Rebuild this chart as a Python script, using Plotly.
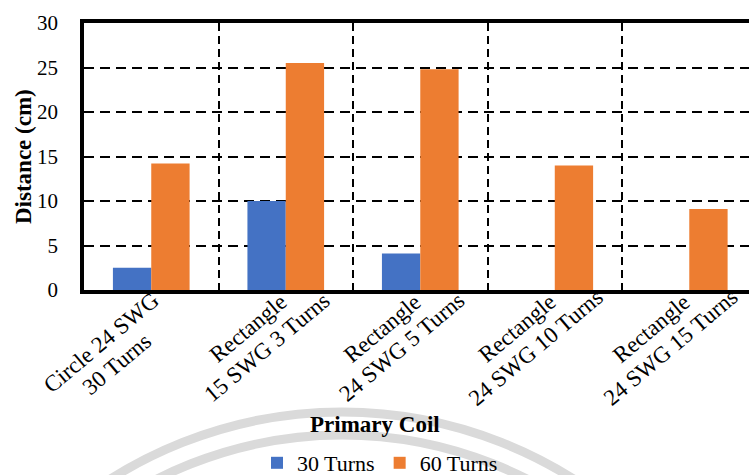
import plotly.graph_objects as go

category_lines = [["Circle 24 SWG", "30 Turns"], ["Rectangle", "15 SWG 3 Turns"], ["Rectangle", "24 SWG 5 Turns"],
                  ["Rectangle", "24 SWG 10 Turns"], ["Rectangle", "24 SWG 15 Turns"]]
turns30 = [2.5, 10.0, 4.1, None, None]
turns60 = [14.2, 25.5, 24.8, 14.0, 9.1]
series_names = ["30 Turns", "60 Turns"]
y_ticks = [0, 5, 10, 15, 20, 25, 30]

FONT = "Liberation Serif"
BLUE = "#4472C4"
ORANGE = "#ED7D31"

# plot-area geometry (pixels)
L, T, B, W = 84, 23, 290, 665
H = B - T


def px(xp):
    return (xp - L) / W


def py(yp):
    return (B - yp) / H


idx = list(range(len(category_lines)))
xr = [-0.5, 4.444]

fig = go.Figure()
fig.add_trace(go.Bar(x=idx, y=turns30, name=series_names[0], marker=dict(color=BLUE, line=dict(width=0))))
fig.add_trace(go.Bar(x=idx, y=turns60, name=series_names[1], marker=dict(color=ORANGE, line=dict(width=0))))
fig.add_trace(go.Scatter(x=[0], y=[0], xaxis="x2", mode="markers", marker=dict(opacity=0),
                         showlegend=False, hoverinfo="skip"))

# rotated two-line category labels (line centres offset from the tick, in px)
label_offsets = [[(-50, -52), (-35, -74)]] + [[(-38, -38), (-19, -57)]] * 4
annotations = []
for i, lines in enumerate(category_lines):
    for j, line in enumerate(lines):
        dx, dy = label_offsets[i][j]
        annotations.append(dict(text=line, x=i, xref="x", y=0, yref="paper", xshift=dx, yshift=dy,
                                textangle=-40, showarrow=False, xanchor="center", yanchor="middle",
                                font=dict(size=23, family=FONT, color="black")))
annotations.append(dict(text="<b>Primary Coil</b>", xref="paper", yref="paper", x=px(375), y=py(424),
                        showarrow=False, font=dict(size=23, family=FONT, color="black"),
                        xanchor="center", yanchor="middle"))
annotations.append(dict(text="<b>Distance (cm)</b>", xref="paper", yref="paper", x=px(23), y=py(157),
                        textangle=-90, showarrow=False, font=dict(size=23, family=FONT, color="black"),
                        xanchor="center", yanchor="middle"))

fig.update_layout(
    width=749, height=475,
    margin=dict(l=L, r=749 - L - W, t=T, b=475 - B, autoexpand=False),
    paper_bgcolor="white", plot_bgcolor="white",
    barmode="group", bargap=0.43, bargroupgap=0,
    font=dict(family=FONT, color="black", size=21),
    xaxis=dict(range=xr, showticklabels=False, automargin=False,
               showgrid=False, showline=True, linecolor="black", linewidth=3.5, mirror=True,
               ticks="", zeroline=False),
    xaxis2=dict(range=xr, overlaying="x", anchor="y", side="bottom", tickmode="array", automargin=False,
                tickvals=[i + 0.5 for i in idx[:-1]], showticklabels=False, showgrid=True,
                gridcolor="black", gridwidth=2, griddash="8px,5px", ticks="inside", ticklen=5,
                tickcolor="black", zeroline=False, showline=False),
    yaxis=dict(range=[0, 30], tickvals=y_ticks, showgrid=True, gridcolor="black", gridwidth=2,
               griddash="10px,6px", showline=True, linecolor="black", linewidth=3.5, automargin=False,
               ticks="", ticklabelstandoff=18, tickfont=dict(size=21, family=FONT), zeroline=False),
    legend=dict(orientation="h", x=px(380), xanchor="center", y=py(463), yanchor="middle",
                font=dict(size=22, family=FONT), itemwidth=30, bgcolor="rgba(0,0,0,0)"),
    annotations=annotations,
    shapes=[
        dict(type="circle", xref="paper", yref="paper", layer="below",
             x0=px(342 - 433), x1=px(342 + 433), y0=py(412), y1=py(412 + 866),
             line=dict(color="#dadada", width=9)),
        dict(type="circle", xref="paper", yref="paper", layer="below",
             x0=px(342 - 410), x1=px(342 + 410), y0=py(435), y1=py(435 + 820),
             line=dict(color="#dadada", width=9)),
    ],
)

fig.write_html("out.html", config={"displayModeBar": False},
               post_script="document.body.style.margin='0';document.body.style.overflow='hidden';")
